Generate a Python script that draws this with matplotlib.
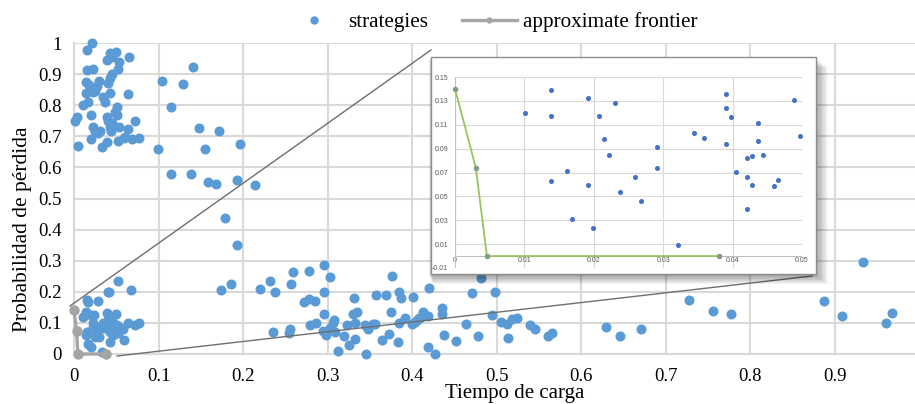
import matplotlib.pyplot as plt
from matplotlib.patches import Rectangle
from matplotlib.lines import Line2D
import numpy as np

# main scatter: loading time vs loss probability
strat_x = [
    0.021, 0.015, 0.0426, 0.0497, 0.0446, 0.0394, 0.0536, 0.0655, 0.0517, 0.0158,
    0.0229, 0.0446, 0.0426, 0.0406, 0.0142, 0.0174, 0.0296, 0.0276, 0.0249, 0.0142,
    0.0229, 0.0426, 0.0643, 0.0347, 0.0363, 0.017, 0.0103, 0.0505, 0.0485, 0.0197,
    0.0387, 0.0406, 0.0505, 0.0446, 0.0012, 0.004, 0.0722, 0.0221, 0.0249, 0.0288,
    0.0308, 0.0426, 0.0434, 0.0536, 0.0643, 0.0197, 0.0051, 0.0327, 0.0394, 0.0525,
    0.0592, 0.0682, 0.0773, 0.0604,
    0.1045, 0.1286, 0.1404, 0.115, 0.0998, 0.1475, 0.1716, 0.1554, 0.196, 0.1144,
    0.138, 0.159, 0.168, 0.193, 0.2138, 0.179, 0.193, 0.1736, 0.186, 0.220,
    0.2316, 0.238,
    0.296, 0.2589, 0.278, 0.303, 0.2564, 0.3767, 0.296, 0.272, 0.278, 0.2856,
    0.331, 0.357, 0.3697, 0.3846, 0.3866, 0.401, 0.375, 0.2959, 0.330, 0.3345,
    0.3921, 0.385, 0.3075, 0.306, 0.333, 0.286, 0.2793, 0.3227, 0.2556, 0.2351,
    0.2544, 0.2943, 0.2982, 0.303, 0.3085, 0.320, 0.3327, 0.3255, 0.312, 0.3456,
    0.3444, 0.3483, 0.3535, 0.356, 0.3641, 0.3724, 0.3839, 0.3996, 0.404, 0.408,
    0.4201, 0.4706, 0.4986, 0.435, 0.4359, 0.4134, 0.419, 0.4095, 0.4055, 0.4639,
    0.494, 0.505, 0.512, 0.5187, 0.5239, 0.5396, 0.545, 0.5604, 0.565, 0.4375,
    0.4517, 0.4777, 0.5132, 0.4193, 0.4272, 0.4813,
    0.629, 0.6462, 0.6703, 0.7271, 0.7566, 0.7775, 0.8868, 0.9082, 0.9333, 0.961,
    0.9681,
    0.0525, 0.0406, 0.0418, 0.068, 0.0158, 0.0165, 0.0284, 0.0142, 0.0103, 0.0197,
    0.024, 0.0394, 0.0497, 0.0221, 0.0347, 0.0387, 0.0446, 0.0513, 0.0536, 0.0643,
    0.0722, 0.0773, 0.0158, 0.0229, 0.0288, 0.0276, 0.0142, 0.0249, 0.030, 0.0426,
    0.0465, 0.0525, 0.0592, 0.0426, 0.017, 0.0197, 0.0327, 0.045, 0.058, 0.040,
    0.035,
]
strat_y = [
    1.0, 0.977, 0.967, 0.972, 0.954, 0.945, 0.940, 0.956, 0.918, 0.913,
    0.918, 0.900, 0.886, 0.872, 0.876, 0.865, 0.879, 0.862, 0.847, 0.838,
    0.843, 0.840, 0.835, 0.825, 0.811, 0.811, 0.801, 0.793, 0.779, 0.768,
    0.763, 0.750, 0.768, 0.742, 0.750, 0.763, 0.750, 0.731, 0.717, 0.710,
    0.718, 0.731, 0.718, 0.729, 0.722, 0.691, 0.670, 0.667, 0.683, 0.686,
    0.693, 0.690, 0.696, 0.699,
    0.879, 0.868, 0.922, 0.794, 0.660, 0.726, 0.717, 0.660, 0.674, 0.578,
    0.578, 0.552, 0.546, 0.558, 0.542, 0.438, 0.352, 0.205, 0.224, 0.210,
    0.234, 0.200,
    0.285, 0.263, 0.267, 0.2465, 0.225, 0.252, 0.198, 0.167, 0.178, 0.1715,
    0.181, 0.190, 0.190, 0.200, 0.179, 0.182, 0.136, 0.130, 0.1286, 0.134,
    0.115, 0.101, 0.109, 0.101, 0.101, 0.0986, 0.0922, 0.0932, 0.0815, 0.0718,
    0.0665, 0.075, 0.061, 0.0825, 0.0718, 0.058, 0.047, 0.029, 0.0096, 0.0,
    0.0932, 0.079, 0.0965, 0.0965, 0.045, 0.064, 0.0386, 0.0965, 0.104, 0.115,
    0.211, 0.197, 0.199, 0.149, 0.1275, 0.136, 0.122, 0.115, 0.109, 0.0965,
    0.125, 0.102, 0.0965, 0.1136, 0.1147, 0.093, 0.0815, 0.058, 0.0686, 0.061,
    0.043, 0.058, 0.0525, 0.0214, 0.0, 0.2433,
    0.0879, 0.058, 0.079, 0.1747, 0.138, 0.1286, 0.1715, 0.121, 0.297, 0.0997,
    0.133,
    0.234, 0.200, 0.198, 0.206, 0.174, 0.168, 0.171, 0.136, 0.120, 0.125,
    0.125, 0.133, 0.129, 0.099, 0.101, 0.099, 0.090, 0.093, 0.086, 0.099,
    0.093, 0.099, 0.072, 0.088, 0.083, 0.072, 0.061, 0.056, 0.054, 0.072,
    0.061, 0.066, 0.045, 0.040, 0.032, 0.021, 0.0075, 0.105, 0.080, 0.110,
    0.085,
]

# approximate frontier
front_x = [0.0, 0.003, 0.0046, 0.038]
front_y = [0.14, 0.074, 0.0, 0.0]

# zoomed view (inset)
zoom_x = [
    0.0101, 0.0138, 0.0138, 0.0138, 0.0161, 0.0169, 0.0192, 0.0192, 0.0199, 0.0207,
    0.0214, 0.0222, 0.0230, 0.0238, 0.0260, 0.0268, 0.0291, 0.0291, 0.0321, 0.0344,
    0.0359, 0.0390, 0.0390, 0.0390, 0.0398, 0.0405, 0.0421, 0.0421, 0.0421, 0.0428,
    0.0428, 0.0436, 0.0436, 0.0444, 0.0459, 0.0466, 0.0489, 0.0497,
]
zoom_y = [
    0.120, 0.139, 0.117, 0.0628, 0.0713, 0.031, 0.132, 0.0597, 0.0231, 0.117,
    0.0983, 0.0845, 0.128, 0.0538, 0.0662, 0.0465, 0.091, 0.0738, 0.0093, 0.1028,
    0.0989, 0.1358, 0.1237, 0.0941, 0.1163, 0.0701, 0.0823, 0.0662, 0.0392, 0.0837,
    0.0592, 0.1113, 0.0966, 0.0848, 0.0586, 0.0634, 0.131, 0.1006,
]

x_ticks = [0, 0.1, 0.2, 0.3, 0.4, 0.5, 0.6, 0.7, 0.8, 0.9]
x_labels = ['0', '0.1', '0.2', '0.3', '0.4', '0.5', '0.6', '0.7', '0.8', '0.9']
y_ticks = [0, 0.1, 0.2, 0.3, 0.4, 0.5, 0.6, 0.7, 0.8, 0.9, 1.0]
y_labels = ['0', '0.1', '0.2', '0.3', '0.4', '0.5', '0.6', '0.7', '0.8', '0.9', '1']
zx_ticks = [0, 0.01, 0.02, 0.03, 0.04, 0.05]
zx_labels = ['0', '0.01', '0.02', '0.03', '0.04', '0.05']
zy_ticks = [-0.01, 0.01, 0.03, 0.05, 0.07, 0.09, 0.11, 0.13, 0.15]
zy_labels = ['-0.01', '0.01', '0.03', '0.05', '0.07', '0.09', '0.11', '0.13', '0.15']

W, H = 915, 404
plt.rcParams['font.family'] = ['Liberation Serif', 'DejaVu Serif']

fig = plt.figure(figsize=(W / 100, H / 100), dpi=100)


def fx(px):
    return px / W


def fy(py):
    return 1 - py / H


blue = '#5B9BD5'
grey = '#A5A5A5'
gridc = '#D9D9D9'

ax = fig.add_axes([fx(74), fy(354), fx(915) - fx(74), fy(43) - fy(354)])
ax.set_xlim(0, 0.995)
ax.set_ylim(0, 1.0)
ax.set_xticks(x_ticks, x_labels)
ax.set_yticks(y_ticks, y_labels)
ax.grid(True, color=gridc, linewidth=1.5)
ax.set_axisbelow(True)
for s in ['top', 'right']:
    ax.spines[s].set_visible(False)
for s in ['left', 'bottom']:
    ax.spines[s].set_color(gridc)
    ax.spines[s].set_linewidth(1.5)
ax.tick_params(length=0, labelsize=13.5)
ax.tick_params(axis='x', pad=10)
ax.tick_params(axis='y', pad=9)

ax.plot(strat_x, strat_y, 'o', color=blue, markersize=6.2, clip_on=False,
        linestyle='none', label='strategies', zorder=3)
ax.plot(front_x, front_y, '-o', color=grey, linewidth=2.4, markersize=6.5,
        clip_on=False, label='approximate frontier', zorder=4)

ax.set_ylabel('Probabilidad de pérdida', fontsize=15.5)
ax.yaxis.set_label_coords(-0.05, 0.4)
ax.set_xlabel('Tiempo de carga', fontsize=15)
ax.xaxis.set_label_coords(0.524, -0.098)

leg_handles = [
    Line2D([], [], marker='o', color=blue, linestyle='none', markersize=5),
    Line2D([], [], marker='o', color=grey, linewidth=2.4, markersize=3.5),
]
fig.legend(leg_handles, ['strategies', 'approximate frontier'],
           loc='center', bbox_to_anchor=(fx(492), fy(22)), ncol=2,
           frameon=False, fontsize=15.2, handlelength=2.6, columnspacing=1.6,
           handletextpad=0.3)

# lines from the zoomed region to the inset
fig.add_artist(Line2D([fx(70), fx(431)], [fy(306), fy(50)], color='#6E6E6E',
                      linewidth=1.0, zorder=5))
fig.add_artist(Line2D([fx(117), fx(812)], [fy(356), fy(276)], color='#6E6E6E',
                      linewidth=1.0, zorder=5))

# inset frame with soft shadow
bx0, bx1, by0, by1 = 431, 816, 57, 274
for i in range(10):
    off = 1 + i
    fig.add_artist(Rectangle((fx(bx0 - 2 + i * 0.4), fy(by1 + off)),
                             fx(bx1 - bx0 + off), fy(by0) - fy(by1),
                             facecolor='black', edgecolor='none', alpha=0.045,
                             zorder=6))
fig.add_artist(Rectangle((fx(bx0), fy(by1)), fx(bx1 - bx0), fy(by0) - fy(by1),
                         facecolor='white', edgecolor='#8C8C8C', linewidth=1.0,
                         zorder=7))

ins = fig.add_axes([fx(455), fy(268), fx(802) - fx(455), fy(77) - fy(268)],
                   zorder=8)
ins.set_facecolor('white')
ins.set_xlim(0, 0.05)
ins.set_ylim(-0.01, 0.15)
ins.set_xticks(zx_ticks, zx_labels)
ins.set_yticks(zy_ticks, zy_labels)
ins.grid(True, color=gridc, linewidth=0.8)
ins.set_axisbelow(True)
for s in ins.spines.values():
    s.set_visible(False)
ins.axhline(0, color='#BFBFBF', linewidth=0.8, zorder=1)
ins.axvline(0, color='#BFBFBF', linewidth=0.8, zorder=1)
ins.tick_params(length=0, labelsize=5, labelcolor='#595959')
ins.tick_params(axis='x', pad=-8)
ins.tick_params(axis='y', pad=5)
for lab in ins.get_xticklabels() + ins.get_yticklabels():
    lab.set_fontfamily('Liberation Sans')
ins.plot(zoom_x, zoom_y, 'o', color='#4472C4', markersize=2.6, linestyle='none',
         clip_on=False)
ins.plot(front_x, front_y, '-', color='#9BC35A', linewidth=1.3, zorder=3)
ins.plot(front_x, front_y, 'o', color='#7F9F86', markersize=3, linestyle='none',
         zorder=4, clip_on=False)

fig.savefig('out.png', dpi=100)
